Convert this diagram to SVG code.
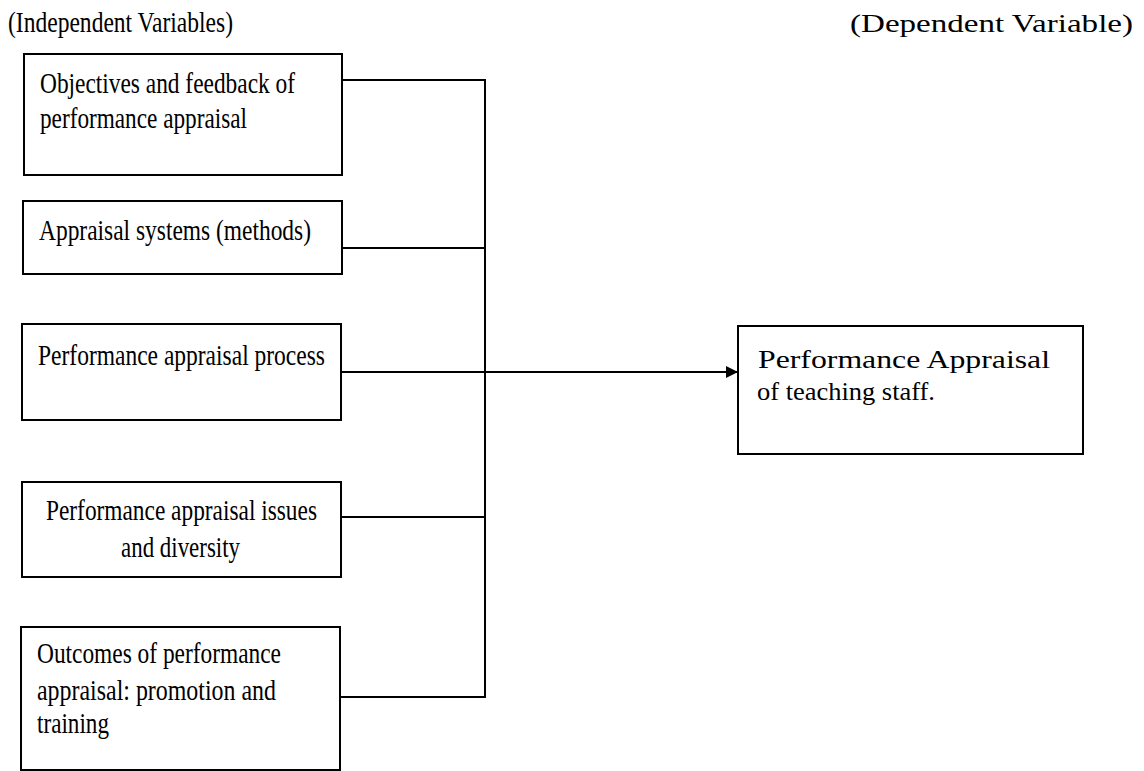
<svg xmlns="http://www.w3.org/2000/svg" width="1144" height="771" viewBox="0 0 1144 771">
<style>
.box{fill:#fff;stroke:#000;stroke-width:2}
.t{font-family:"Liberation Serif","Times New Roman",serif;font-size:30px;fill:#000}
.r{font-family:"Liberation Serif","Times New Roman",serif;font-size:26px;fill:#000}
.c{fill:none;stroke:#000;stroke-width:2}
</style>
<defs>
<marker id="ah" markerWidth="12" markerHeight="12" refX="11" refY="6" orient="auto" markerUnits="userSpaceOnUse">
<path d="M0,0 L12,6 L0,12 z" fill="#000"/>
</marker>
</defs>
<rect width="1144" height="771" fill="#fff"/>
<text class="t" x="8" y="32" font-size="29" textLength="225" lengthAdjust="spacingAndGlyphs">(Independent Variables)</text>
<text class="r" x="850" y="32" font-size="27" textLength="283" lengthAdjust="spacingAndGlyphs">(Dependent Variable)</text>
<g id="connectors">
<path class="c" d="M342,80 H485 V697 H341"/>
<path class="c" d="M342,248 H485"/>
<path class="c" d="M341,517 H485"/>
<path class="c" d="M341,372 H737" marker-end="url(#ah)"/>
</g>
<g id="n1">
<rect class="box" x="24" y="54" width="318" height="121"/>
<text class="t" x="40" y="93" textLength="255" lengthAdjust="spacingAndGlyphs">Objectives and feedback of</text>
<text class="t" x="40" y="128" textLength="207" lengthAdjust="spacingAndGlyphs">performance appraisal</text>
</g>
<g id="n2">
<rect class="box" x="23" y="201" width="319" height="73"/>
<text class="t" x="39" y="240" textLength="272" lengthAdjust="spacingAndGlyphs">Appraisal systems (methods)</text>
</g>
<g id="n3">
<rect class="box" x="22" y="324" width="319" height="96"/>
<text class="t" x="38" y="365" textLength="287" lengthAdjust="spacingAndGlyphs">Performance appraisal process</text>
</g>
<g id="n4">
<rect class="box" x="22" y="482" width="319" height="95"/>
<text class="t" x="46" y="520" textLength="271" lengthAdjust="spacingAndGlyphs">Performance appraisal issues</text>
<text class="t" x="121" y="557" textLength="119" lengthAdjust="spacingAndGlyphs">and diversity</text>
</g>
<g id="n5">
<rect class="box" x="21" y="627" width="319" height="143"/>
<text class="t" x="37" y="663" textLength="244" lengthAdjust="spacingAndGlyphs">Outcomes of performance</text>
<text class="t" x="37" y="700" textLength="239" lengthAdjust="spacingAndGlyphs">appraisal:  promotion and</text>
<text class="t" x="37" y="733" textLength="72" lengthAdjust="spacingAndGlyphs">training</text>
</g>
<g id="n6">
<rect class="box" x="738" y="326" width="345" height="128"/>
<text class="r" x="758" y="368" textLength="292" lengthAdjust="spacingAndGlyphs">Performance Appraisal</text>
<text class="r" x="757" y="400" textLength="178" lengthAdjust="spacingAndGlyphs">of teaching staff.</text>
</g>
</svg>
